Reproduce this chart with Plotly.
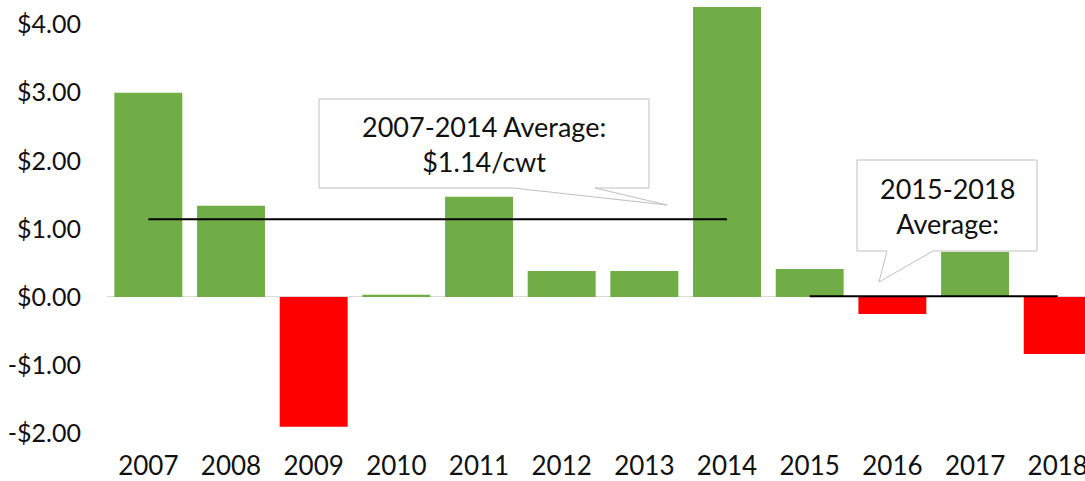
import plotly.graph_objects as go

years = ["2007", "2008", "2009", "2010", "2011", "2012", "2013", "2014",
         "2015", "2016", "2017", "2018"]
values = [3.00, 1.34, -1.91, 0.03, 1.47, 0.38, 0.38, 4.43,
          0.41, -0.25, 0.66, -0.84]
avg1_years = years[:8]
avg1_value = 1.14
avg2_years = years[8:]
avg2_value = 0.01
y_ticks = [-2, -1, 0, 1, 2, 3, 4]
y_tick_labels = ["-$2.00", "-$1.00", "$0.00", "$1.00", "$2.00", "$3.00", "$4.00"]
callout1_text = "2007-2014 Average:<br>$1.14/cwt"
callout2_text = "2015-2018<br>Average:"

GREEN = "#70ad47"
RED = "#ff0000"
FONT = "Lato"

W, H = 1085, 481
ML, MR, MT, MB = 107, 0, 7, 34
PW, PH = W - ML - MR, H - MT - MB


def px(x):
    return (x - ML) / PW


def py(y):
    return (H - MB - y) / PH


def path(points):
    return "M " + " L ".join(f"{px(a):.5f},{py(b):.5f}" for a, b in points) + " Z"


colors = [GREEN if v >= 0 else RED for v in values]

fig = go.Figure()
fig.add_trace(go.Bar(x=years, y=values, marker=dict(color=colors, line=dict(width=0)),
                     hoverinfo="x+y"))
fig.add_trace(go.Scatter(x=avg1_years, y=[avg1_value] * len(avg1_years), mode="lines",
                         line=dict(color="black", width=2)))
fig.add_trace(go.Scatter(x=avg2_years, y=[avg2_value] * len(avg2_years), mode="lines",
                         line=dict(color="black", width=2)))

box1 = [(319, 99), (649, 99), (649, 188), (595, 188), (667, 205), (513, 188), (319, 188)]
box2 = [(857, 160), (1037, 160), (1037, 251), (933, 251), (879, 282), (887, 251), (857, 251)]
for b in (box1, box2):
    fig.add_shape(type="path", path=path(b), xref="paper", yref="paper",
                  line=dict(color="#bfbfbf", width=1), fillcolor="white", layer="above")

fig.add_annotation(x=px(484), y=py(144), xref="paper", yref="paper", text=callout1_text,
                   showarrow=False, font=dict(family=FONT, size=27, color="#111"),
                   xanchor="center", yanchor="middle")
fig.add_annotation(x=px(947), y=py(206), xref="paper", yref="paper", text=callout2_text,
                   showarrow=False, font=dict(family=FONT, size=27, color="#111"),
                   xanchor="center", yanchor="middle")

fig.update_layout(
    width=W, height=H,
    margin=dict(l=ML, r=MR, t=MT, b=MB, pad=0, autoexpand=False),
    paper_bgcolor="white", plot_bgcolor="white",
    showlegend=False,
    bargap=0.178,
    font=dict(family=FONT, size=25, color="#111"),
    xaxis=dict(type="category", range=[-0.5, 11.33], showgrid=False, showline=False,
               ticks="", ticklabelstandoff=1, tickfont=dict(size=26), automargin=False),
    yaxis=dict(range=[-2.206, 4.26], tickvals=y_ticks, ticktext=y_tick_labels,
               showgrid=False, showline=False, zeroline=True, zerolinecolor="#d9d9d9",
               zerolinewidth=1, ticks="", ticklabelstandoff=25, tickfont=dict(size=25),
               automargin=False),
)

fig.write_html("out.html", config={"displayModeBar": False},
               post_script="document.body.style.margin='0px';document.body.style.overflow='hidden';")
